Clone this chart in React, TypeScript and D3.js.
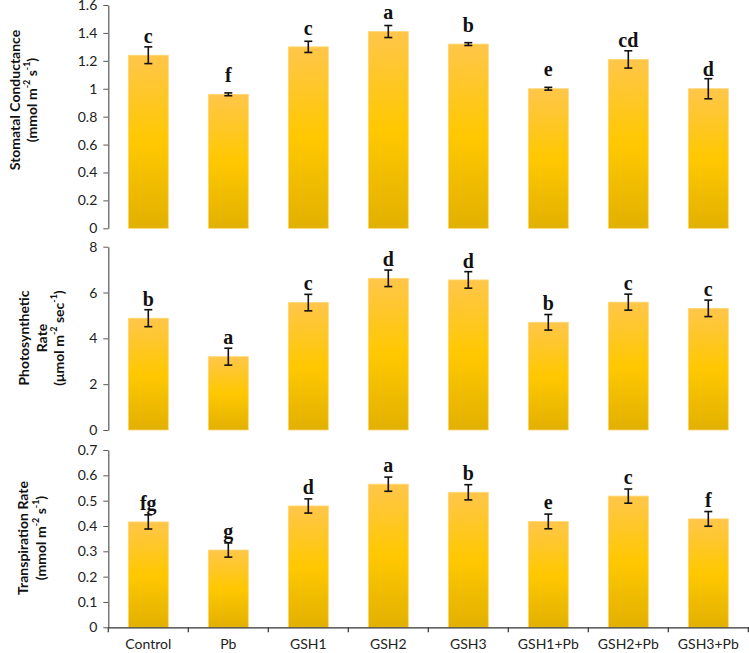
import React, { useEffect, useRef } from 'react';
import * as d3 from 'd3';

const categories = ['Control', 'Pb', 'GSH1', 'GSH2', 'GSH3', 'GSH1+Pb', 'GSH2+Pb', 'GSH3+Pb'];

const stomatal = [1.24, 0.96, 1.3, 1.41, 1.32, 1.0, 1.21, 1.0];
const stomatalErr = [0.06, 0.01, 0.04, 0.043, 0.01, 0.01, 0.062, 0.072];
const stomatalLetters = ['c', 'f', 'c', 'a', 'b', 'e', 'cd', 'd'];
const stomatalTicks = [0, 0.2, 0.4, 0.6, 0.8, 1, 1.2, 1.4, 1.6];

const photo = [4.88, 3.2, 5.56, 6.62, 6.55, 4.7, 5.58, 5.31];
const photoErr = [0.37, 0.37, 0.36, 0.36, 0.36, 0.34, 0.35, 0.36];
const photoLetters = ['b', 'a', 'c', 'd', 'd', 'b', 'c', 'c'];
const photoTicks = [0, 2, 4, 6, 8];

const transp = [0.416, 0.305, 0.479, 0.565, 0.533, 0.418, 0.518, 0.428];
const transpErr = [0.028, 0.028, 0.028, 0.028, 0.03, 0.029, 0.028, 0.029];
const transpLetters = ['fg', 'g', 'd', 'a', 'b', 'e', 'c', 'f'];
const transpTicks = [0, 0.1, 0.2, 0.3, 0.4, 0.5, 0.6, 0.7];

interface Panel {
  values: number[];
  errs: number[];
  letters: string[];
  ticks: number[];
  max: number;
  top: number;
  bottom: number;
  title: string[];
  titleX: number[];
  titleY: number;
}

const W = 749;
const H = 653;
const LEFT = 108.3;
const RIGHT = 748.3;
const LABEL_FONT = 'Lato, "Open Sans", sans-serif';

const panels: Panel[] = [
  {
    values: stomatal, errs: stomatalErr, letters: stomatalLetters, ticks: stomatalTicks,
    max: 1.6, top: 5, bottom: 228.3,
    title: ['Stomatal Conductance', '(mmol m^{-2} s^{-1})'],
    titleX: [14, 31], titleY: 100,
  },
  {
    values: photo, errs: photoErr, letters: photoLetters, ticks: photoTicks,
    max: 8, top: 246.7, bottom: 430,
    title: ['Photosynthetic', 'Rate', '(μmol m^{-2} sec^{-1})'],
    titleX: [23, 41, 58], titleY: 338,
  },
  {
    values: transp, errs: transpErr, letters: transpLetters, ticks: transpTicks,
    max: 0.7, top: 450, bottom: 627.3,
    title: ['Transpiration Rate', '(mmol m^{-2} s^{-1})'],
    titleX: [22, 40], titleY: 538,
  },
];

const App: React.FC = () => {
  const ref = useRef<SVGSVGElement>(null);

  useEffect(() => {
    if (!ref.current) return;
    const svg = d3.select(ref.current);
    svg.selectAll('*').remove();

    const defs = svg.append('defs');
    const grad = defs
      .append('linearGradient')
      .attr('id', 'barGrad')
      .attr('x1', 0).attr('x2', 0).attr('y1', 0).attr('y2', 1);
    grad.append('stop').attr('offset', '0%').attr('stop-color', '#ffc64a');
    grad.append('stop').attr('offset', '50%').attr('stop-color', '#ffc800');
    grad.append('stop').attr('offset', '100%').attr('stop-color', '#e2b000');

    const x = d3.scaleBand<string>().domain(categories).range([LEFT, RIGHT]).paddingInner(0.5).paddingOuter(0.25);

    panels.forEach((p, pi) => {
      const y = d3.scaleLinear().domain([0, p.max]).range([p.bottom, p.top]);
      const g = svg.append('g');

      // y axis
      const axis = g
        .append('g')
        .attr('transform', `translate(${LEFT},0)`)
        .call(
          d3.axisLeft(y)
            .tickValues(p.ticks)
            .tickSize(5)
            .tickSizeOuter(0)
            .tickPadding(6)
            .tickFormat((d) => String(+(+d).toFixed(2)))
        );
      axis.select('.domain').attr('stroke', '#595959').attr('stroke-width', 1.2);
      axis.selectAll('.tick line').attr('stroke', '#595959');
      axis.selectAll('.tick text').attr('fill', '#222').style('font-family', LABEL_FONT).style('font-size', '14px');

      // bars
      g.selectAll('rect.bar')
        .data(p.values)
        .enter()
        .append('rect')
        .attr('class', 'bar')
        .attr('x', (_d, i) => x(categories[i])!)
        .attr('width', x.bandwidth())
        .attr('y', (d) => y(d))
        .attr('height', (d) => y(0) - y(d))
        .attr('fill', 'url(#barGrad)')
        .attr('stroke', '#ffd870')
        .attr('stroke-width', 0.8);

      // error bars
      const eb = g
        .selectAll('g.err')
        .data(p.values)
        .enter()
        .append('g')
        .attr('class', 'err')
        .attr('stroke', '#111')
        .attr('stroke-width', 1.6);
      const cx = (i: number) => x(categories[i])! + x.bandwidth() / 2;
      eb.append('line')
        .attr('x1', (_d, i) => cx(i)).attr('x2', (_d, i) => cx(i))
        .attr('y1', (d, i) => y(d + p.errs[i])).attr('y2', (d, i) => y(d - p.errs[i]));
      eb.append('line')
        .attr('x1', (_d, i) => cx(i) - 4).attr('x2', (_d, i) => cx(i) + 4)
        .attr('y1', (d, i) => y(d + p.errs[i])).attr('y2', (d, i) => y(d + p.errs[i]));
      eb.append('line')
        .attr('x1', (_d, i) => cx(i) - 4).attr('x2', (_d, i) => cx(i) + 4)
        .attr('y1', (d, i) => y(d - p.errs[i])).attr('y2', (d, i) => y(d - p.errs[i]));

      // letters
      g.selectAll('text.letter')
        .data(p.values)
        .enter()
        .append('text')
        .attr('class', 'letter')
        .attr('x', (_d, i) => cx(i))
        .attr('y', (d) => y(d) - 12.3)
        .attr('text-anchor', 'middle')
        .style('font-family', '"Liberation Serif", "Times New Roman", serif')
        .style('font-weight', 'bold')
        .style('font-size', '20px')
        .attr('fill', '#111')
        .text((_d, i) => p.letters[i]);

      // titles
      p.title.forEach((line, li) => {
        const t = g
          .append('text')
          .attr('transform', `translate(${p.titleX[li]},${p.titleY}) rotate(-90)`)
          .attr('text-anchor', 'middle')
          .attr('dominant-baseline', 'central')
          .style('font-family', LABEL_FONT)
          .style('font-weight', 'bold')
          .style('font-size', '14px')
          .attr('fill', '#111');
        const parts = line.split(/\^\{([^}]*)\}/);
        let shift = 0;
        parts.forEach((part, k) => {
          if (!part) return;
          if (k % 2 === 1) {
            t.append('tspan').attr('dy', -5 - shift).style('font-size', '9px').text(part);
            shift = -5;
          } else {
            t.append('tspan').attr('dy', -shift).text(part);
            shift = 0;
          }
        });
      });

      // x axis only on last panel
      if (pi === panels.length - 1) {
        const xa = g
          .append('g')
          .attr('transform', `translate(0,${p.bottom})`)
          .call(d3.axisBottom(x).tickSize(0).tickPadding(12));
        xa.select('.domain').attr('stroke', '#333').attr('stroke-width', 1.2);
        xa.selectAll('.tick text').attr('fill', '#222').style('font-family', LABEL_FONT).style('font-size', '14px');
        const step = x.step();
        const bounds = d3.range(categories.length + 1).map((i) => LEFT + i * step);
        g.selectAll('line.xt')
          .data(bounds)
          .enter()
          .append('line')
          .attr('class', 'xt')
          .attr('x1', (d) => d).attr('x2', (d) => d)
          .attr('y1', p.bottom).attr('y2', p.bottom + 5)
          .attr('stroke', '#333')
          .attr('stroke-width', 1.2);
      }
    });
  }, []);

  return (
    <svg
      ref={ref}
      width={W}
      height={H}
      style={{ position: 'absolute', left: 0, top: 0, background: '#fff' }}
    />
  );
};

export default App;
